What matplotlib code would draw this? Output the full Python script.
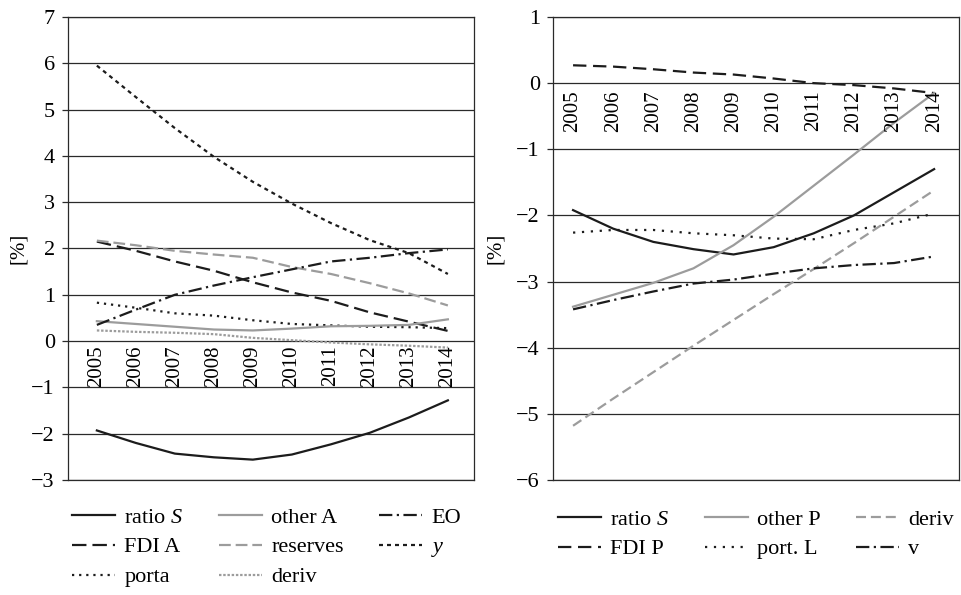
import matplotlib
matplotlib.use("Agg")
import matplotlib.pyplot as plt

plt.rcParams['font.family'] = ['Liberation Serif', 'DejaVu Serif']
plt.rcParams['mathtext.fontset'] = 'custom'
plt.rcParams['mathtext.rm'] = 'Liberation Serif'
plt.rcParams['mathtext.it'] = 'Liberation Serif:italic'

years = ['2005', '2006', '2007', '2008', '2009', '2010', '2011', '2012', '2013', '2014']

# Left panel (assets side)
ratio_S = [-1.93, -2.20, -2.43, -2.51, -2.56, -2.45, -2.23, -1.98, -1.65, -1.28]
other_A = [0.43, 0.37, 0.31, 0.25, 0.23, 0.27, 0.32, 0.33, 0.35, 0.47]
EO = [0.35, 0.68, 1.00, 1.20, 1.38, 1.55, 1.72, 1.80, 1.90, 1.98]
FDI_A = [2.15, 1.95, 1.72, 1.52, 1.27, 1.05, 0.87, 0.62, 0.42, 0.22]
reserves = [2.17, 2.07, 1.95, 1.87, 1.80, 1.60, 1.45, 1.25, 1.03, 0.77]
y_growth = [5.95, 5.27, 4.60, 3.98, 3.44, 2.97, 2.55, 2.18, 1.90, 1.45]
porta = [0.83, 0.72, 0.60, 0.55, 0.45, 0.37, 0.34, 0.31, 0.30, 0.28]
deriv_A = [0.23, 0.20, 0.18, 0.15, 0.07, 0.02, -0.03, -0.07, -0.10, -0.14]

# Right panel (liabilities side)
ratio_S_r = [-1.92, -2.20, -2.40, -2.51, -2.59, -2.48, -2.27, -2.00, -1.65, -1.30]
other_P = [-3.38, -3.20, -3.02, -2.80, -2.45, -2.02, -1.55, -1.08, -0.60, -0.15]
deriv_P = [-5.18, -4.77, -4.37, -3.97, -3.58, -3.19, -2.81, -2.42, -2.02, -1.62]
FDI_P = [0.27, 0.25, 0.21, 0.16, 0.13, 0.07, 0.00, -0.03, -0.08, -0.15]
port_L = [-2.26, -2.22, -2.22, -2.27, -2.30, -2.35, -2.36, -2.22, -2.12, -1.97]
v_series = [-3.42, -3.28, -3.15, -3.03, -2.97, -2.88, -2.80, -2.75, -2.72, -2.62]

BLACK = '#1c1c1c'
GRAY = '#9c9c9c'
LW = 1.6
FS = 15
LFS = 16

fig = plt.figure(figsize=(9.61, 5.95), dpi=100)
axL = fig.add_axes([68/961, 1-480/595, (474-68)/961, (480-17)/595])
axR = fig.add_axes([553/961, 1-480/595, (959-553)/961, (480-17)/595])

x = list(range(len(years)))

def style_axes(ax, ymin, ymax, xlim, yoff):
    ax.set_ylim(ymin, ymax)
    ax.set_xlim(*xlim)
    ax.set_yticks(range(ymin, ymax + 1))
    ax.set_xticks([])
    for yv in range(ymin, ymax + 1):
        ax.axhline(yv, color='#2a2a2a', lw=0.9, zorder=1)
    for s in ax.spines.values():
        s.set_color('#2a2a2a')
        s.set_linewidth(0.9)
    ax.tick_params(axis='y', length=4.5, width=0.9, color='#2a2a2a', pad=5, labelsize=16)
    for i, yr in enumerate(years):
        ax.annotate(yr, xy=(i, 0), xytext=(0, yoff), textcoords='offset points',
                    rotation=90, ha='center', va='top', fontsize=FS, zorder=5)

# Left panel
style_axes(axL, -3, 7, (-0.74, 9.67), -3)
hL = []
hL.append(axL.plot(x, ratio_S, color=BLACK, lw=LW, label='ratio $S$', zorder=3)[0])
hL.append(axL.plot(x, FDI_A, color=BLACK, lw=LW, dashes=(6.5, 2.7), label='FDI A', zorder=3)[0])
hL.append(axL.plot(x, porta, color=BLACK, lw=LW, dashes=(1, 2.2), label='porta', zorder=3)[0])
hL.append(axL.plot(x, other_A, color=GRAY, lw=LW, label='other A', zorder=3)[0])
hL.append(axL.plot(x, reserves, color=GRAY, lw=LW, dashes=(5.3, 2.2), label='reserves', zorder=3)[0])
hL.append(axL.plot(x, deriv_A, color=GRAY, lw=LW, dashes=(1.1, 0.8), label='deriv', zorder=3)[0])
hL.append(axL.plot(x, EO, color=BLACK, lw=LW, dashes=(6, 2, 1, 2), label='EO', zorder=3)[0])
hL.append(axL.plot(x, y_growth, color=BLACK, lw=LW, dashes=(1.8, 1.8), label='$y$', zorder=3)[0])

# Right panel
style_axes(axR, -6, 1, (-0.5, 9.62), -5)
hR = []
hR.append(axR.plot(x, ratio_S_r, color=BLACK, lw=LW, label='ratio $S$', zorder=3)[0])
hR.append(axR.plot(x, FDI_P, color=BLACK, lw=LW, dashes=(6, 3), label='FDI P', zorder=3)[0])
hR.append(axR.plot(x, other_P, color=GRAY, lw=LW, label='other P', zorder=3)[0])
hR.append(axR.plot(x, port_L, color=BLACK, lw=LW, dashes=(1, 3), label='port. L', zorder=3)[0])
hR.append(axR.plot(x, deriv_P, color=GRAY, lw=LW, dashes=(4.5, 2.2), label='deriv', zorder=3)[0])
hR.append(axR.plot(x, v_series, color=BLACK, lw=LW, dashes=(6, 2, 1, 2), label='v', zorder=3)[0])

fig.text(18/961, 1-248/595, '[%]', rotation=90, ha='center', va='center', fontsize=FS)
fig.text(495/961, 1-248/595, '[%]', rotation=90, ha='center', va='center', fontsize=FS)

leg_kw = dict(ncol=3, frameon=False, fontsize=LFS, loc='upper left', borderpad=0,
              borderaxespad=0, handlelength=1.94, handletextpad=0.42,
              columnspacing=1.58, labelspacing=0.42)
fig.legend(handles=hL, labels=[h.get_label() for h in hL],
           bbox_to_anchor=(72/961, 1-507/595), **leg_kw)
fig.legend(handles=hR, labels=[h.get_label() for h in hR],
           bbox_to_anchor=(558/961, 1-509/595), **leg_kw)

fig.savefig('out.png', dpi=100)
